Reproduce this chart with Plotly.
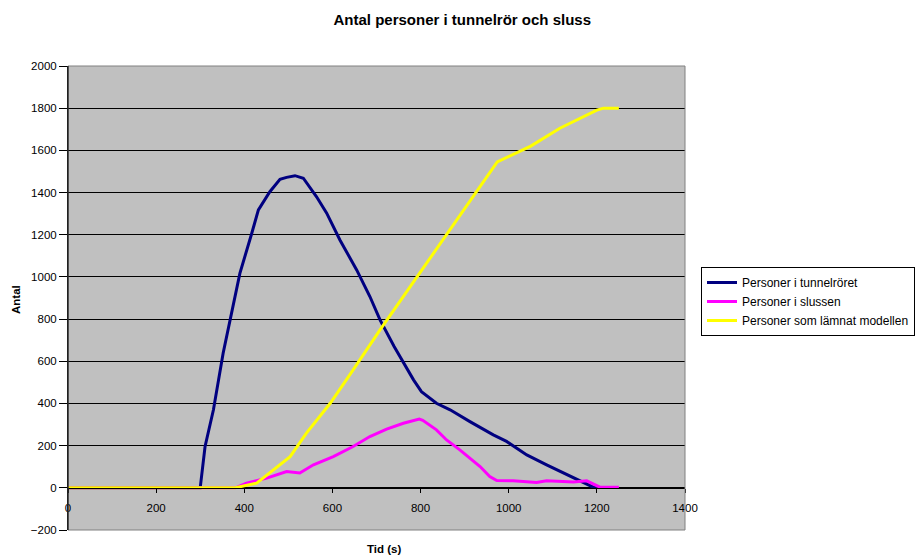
import plotly.graph_objects as go

# Personer i tunnelröret
t_tunnel = [0, 300, 311, 330, 352, 371, 390, 417, 432, 458, 481, 496, 515, 534, 564, 587, 617, 655, 685, 708,
            740, 784, 802, 836, 867, 912, 965, 995, 1041, 1086, 1147, 1192, 1200]
y_tunnel = [0, 0, 196, 370, 638, 828, 1017, 1207, 1318, 1404, 1463, 1472, 1480, 1468, 1380, 1302, 1175, 1033, 907, 796,
            670, 512, 456, 401, 370, 314, 251, 220, 156, 109, 46, 3, 0]

# Personer i slussen
t_sluss = [0, 380, 405, 451, 496, 526, 557, 602, 647, 685, 723, 761, 797, 805, 836, 859, 889, 912, 935, 957,
           973, 1010, 1063, 1086, 1147, 1177, 1207, 1250]
y_sluss = [0, 0, 22, 46, 77, 70, 109, 148, 196, 243, 278, 306, 326, 320, 275, 227, 180, 141, 101, 54,
           35, 33, 25, 33, 28, 33, 3, 3]

# Personer som lämnat modellen
t_ut = [0, 380, 428, 466, 504, 541, 595, 647, 708, 974, 1000, 1050, 1116, 1200, 1215, 1250]
y_ut = [0, 0, 22, 85, 148, 259, 401, 559, 749, 1545, 1570, 1620, 1705, 1791, 1800, 1800]

series_names = ["Personer i tunnelröret", "Personer i slussen", "Personer som lämnat modellen"]
colors = ["#000080", "#FF00FF", "#FFFF00"]

FONT = "Arial, Liberation Sans, sans-serif"

fig = go.Figure()
for (tx, ty), name, c in zip([(t_tunnel, y_tunnel), (t_sluss, y_sluss), (t_ut, y_ut)], series_names, colors):
    fig.add_trace(go.Scatter(x=tx, y=ty, mode="lines", name=name,
                             line=dict(color=c, width=3)))

ymin, ymax = -200, 2000
fig.update_layout(
    width=919, height=560,
    margin=dict(l=68, r=234, t=66, b=30, autoexpand=False),
    paper_bgcolor="white",
    plot_bgcolor="#C0C0C0",
    font=dict(family=FONT, size=11, color="black"),
    title=dict(text="<b>Antal personer i tunnelrör och sluss</b>", x=0.503, xref="container",
               xanchor="center", y=0.964, yref="container", yanchor="middle",
               font=dict(family=FONT, size=15, color="black")),
    xaxis=dict(range=[0, 1400], dtick=200, showgrid=False, zeroline=False,
               showline=True, linecolor="black", linewidth=1,
               ticks="outside", ticklen=4, tickcolor="black", ticklabelstandoff=5,
               anchor="free", position=(0 - ymin) / (ymax - ymin),
               tickfont=dict(family=FONT, size=11.5)),
    yaxis=dict(range=[ymin, ymax], dtick=200, showgrid=True, gridcolor="black", gridwidth=1,
               zeroline=False, showline=True, linecolor="black", linewidth=1,
               ticks="outside", ticklen=8, tickcolor="black",
               tickfont=dict(family=FONT, size=11.5)),
    legend=dict(x=(701 - 68) / 617, y=(530 - 267) / 464, xanchor="left", yanchor="top",
                bordercolor="black", borderwidth=1, bgcolor="white",
                font=dict(family=FONT, size=12), tracegroupgap=0, itemwidth=30),
    showlegend=True,
)
fig.add_shape(type="rect", xref="x domain", yref="y domain", x0=0, x1=1, y0=0, y1=1,
              line=dict(color="#808080", width=1), layer="above")
fig.add_shape(type="line", xref="x domain", yref="y domain", x0=0, x1=0, y0=0, y1=1,
              line=dict(color="black", width=1), layer="above")
fig.add_annotation(text="<b>Tid (s)</b>", xref="paper", yref="paper", x=(384 - 68) / 617,
                   y=-(549 - 530) / 464, showarrow=False, xanchor="center", yanchor="middle",
                   font=dict(family=FONT, size=11.5))
fig.add_annotation(text="<b>Antal</b>", xref="paper", yref="paper", x=-(68 - 16) / 617,
                   y=(530 - 300) / 464, showarrow=False, textangle=-90, xanchor="center", yanchor="middle",
                   font=dict(family=FONT, size=11.5))

fig.write_html("out.html")
